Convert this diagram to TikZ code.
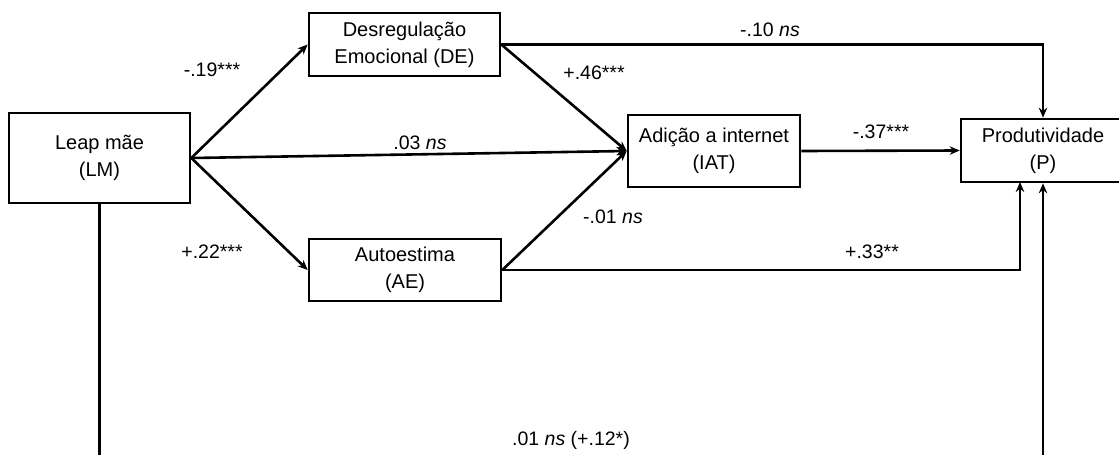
\documentclass[tikz,border=0pt]{standalone}
\usepackage{fontspec}
\setmainfont{Liberation Sans}
\usetikzlibrary{arrows.meta}
\begin{document}
\begin{tikzpicture}[x=1pt,y=-1pt,
  box/.style={draw,line width=2.6pt,align=center,font=\fontsize{20}{27}\selectfont,inner sep=0pt},
  lbl/.style={font=\fontsize{19.5}{23}\selectfont,inner sep=0pt},
  conn/.style={line width=2.6pt},
  arr/.style={conn,-{Stealth[length=10pt,width=8.5pt]}}]
\useasboundingbox (0,0) rectangle (1119,455);
\clip (0,0) rectangle (1119,455);
\node[box,minimum width=181pt,minimum height=90pt] (LM) at (99.5,158) {Leap mãe\\(LM)};
\node[box,minimum width=191pt,minimum height=63pt] (DE) at (404.5,44.5) {Desregulação\\Emocional (DE)};
\node[box,minimum width=192pt,minimum height=62pt] (AE) at (405,270) {Autoestima\\(AE)};
\node[box,minimum width=172pt,minimum height=72pt] (IAT) at (714,151) {Adição a internet\\(IAT)};
\node[box,minimum width=164pt,minimum height=63pt] (P) at (1043,150.5) {Produtividade\\(P)};
\coordinate (LMb) at (99.5,470);
\coordinate (Pb) at (1043,470);
\coordinate (Pin) at (1020,182);
% connectors
\draw[arr] (LM.east) -- (DE.west);
\draw[arr] (LM.east) -- (AE.west);
\draw[arr] (LM.east) -- (IAT.west);
\draw[arr] (DE.east) -- (IAT.west);
\draw[arr] (AE.east) -- (IAT.west);
\draw[arr] (DE.east) -| (P.north);
\draw[arr] (IAT.east) -- (P.west);
\draw[arr] (AE.east) -| (Pin);
\draw[conn] (LM.south) -- (LMb);
\draw[arr] (Pb) -- (P.south);
% labels
\node[lbl] (l1) at (212,70) {-.19***};
\node[lbl] (l2) at (212,252) {+.22***};
\node[lbl] (l3) at (594,73) {+.46***};
\node[lbl] (l4) at (420,143) {.03 \textit{ns}};
\node[lbl] (l5) at (770,30) {-.10 \textit{ns}};
\node[lbl] (l6) at (881,132) {-.37***};
\node[lbl] (l7) at (613,217) {-.01 \textit{ns}};
\node[lbl] (l8) at (872,252) {+.33**};
\node[lbl] (l9) at (571,440) {.01 \textit{ns} (+.12*)};
\end{tikzpicture}
\end{document}
